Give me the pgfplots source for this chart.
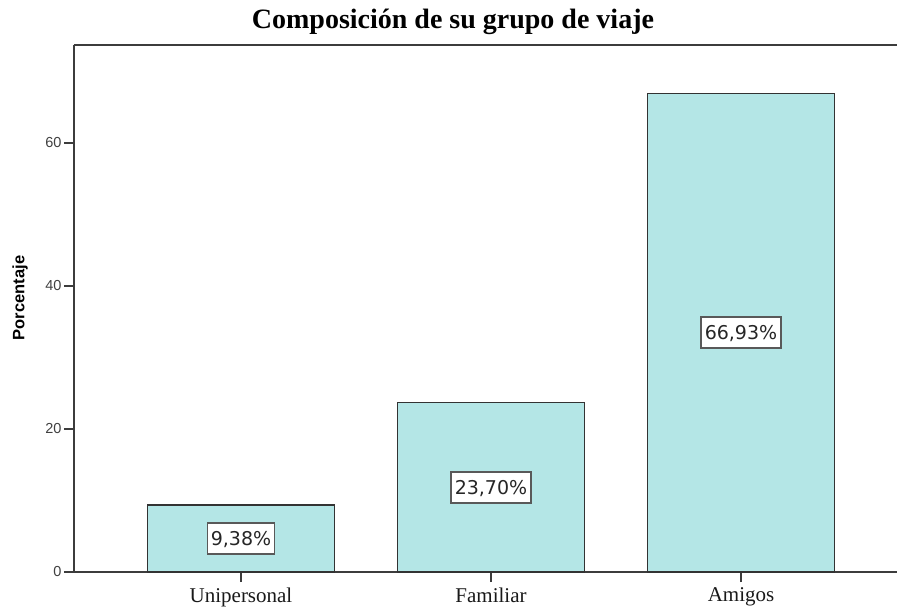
\documentclass[border=0pt]{standalone}
\usepackage{fontspec}
\setmainfont{Liberation Serif}
\newfontfamily\arialf{Liberation Sans}
\newfontfamily\dejavu{DejaVu Sans}
\usepackage{pgfplots}
\pgfplotsset{compat=1.18}
\definecolor{barfill}{RGB}{180,230,230}
\definecolor{axgray}{RGB}{60,60,60}
\begin{document}
\begin{tikzpicture}[x=1pt,y=1pt]
\path[use as bounding box] (-74,-36) rectangle (823,572);
\begin{axis}[
 at={(0,0)}, anchor=south west,
 scale only axis, width=823pt, height=527pt,
 xmin=-0.668, xmax=2.624, ymin=0, ymax=73.7,
 axis x line*=bottom, axis y line*=left,
 axis line style={axgray, line width=1.6pt, -},
 xtick={0,1,2}, xticklabels={Unipersonal,Familiar,Amigos},
 ytick={0,20,40,60},
 /pgf/number format/assume math mode=true,
 tick align=outside, major tick length=10pt,
 tick style={axgray, line width=1.6pt},
 x tick label style={font=\fontsize{21}{24}\selectfont, text=black!90, yshift=-2.5pt},
 y tick label style={font=\arialf\fontsize{14.5}{16}\selectfont, text=black!75, xshift=1pt},
 ylabel={Porcentaje},
 ylabel style={font=\arialf\bfseries\fontsize{16.5}{18}\selectfont, at={(axis description cs:-0.0656,0.52)}, anchor=center},
 title={Composición de su grupo de viaje},
 title style={font=\bfseries\fontsize{28}{30}\selectfont, at={(axis description cs:0.4605,1)}, anchor=base, yshift=10pt},
 clip=false,
]
\addplot[ybar, bar width=187pt, fill=barfill, draw=black!80, line width=1.6pt,
 visualization depends on={y/2 \as \half},
 nodes near coords={\pgfmathprintnumber[fixed,fixed zerofill,precision=2,use comma,assume math mode=true]{\pgfplotspointmeta}\%},
 every node near coord/.append style={anchor=center, shift={(axis direction cs:0,-\half)}, draw=black!65, line width=1.6pt, fill=white, font=\dejavu\fontsize{19}{21}\selectfont, text=black!85, inner xsep=3.5pt, inner ysep=0pt, minimum height=31pt, text height=14pt, text depth=0pt}
] coordinates {(0,9.38) (1,23.70) (2,66.93)};
\draw[axgray, line width=1.6pt] (rel axis cs:0,1) -- (rel axis cs:1,1);
\end{axis}
\end{tikzpicture}
\end{document}
